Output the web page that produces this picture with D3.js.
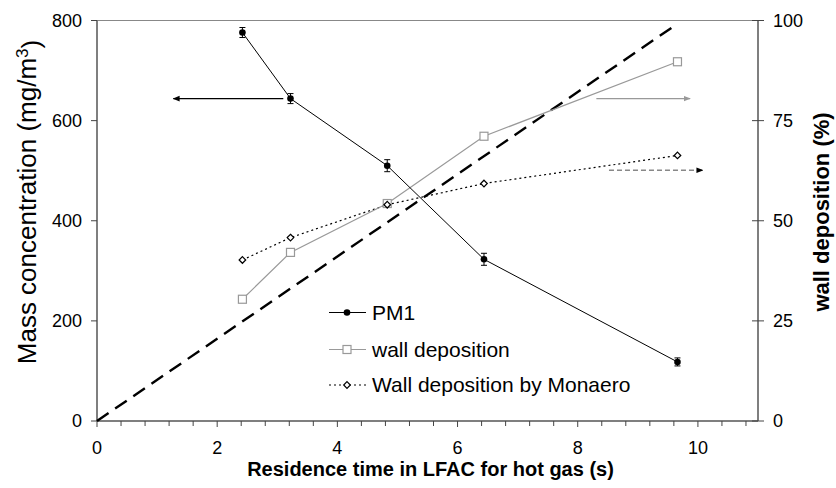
<!DOCTYPE html>
<html>
<head>
<meta charset="utf-8">
<script src="https://cdn.jsdelivr.net/npm/d3@7"></script>
<style>
  body { margin: 0; background: #fff; }
  text { font-family: Arial, "Liberation Sans", sans-serif; fill: #000; }
</style>
</head>
<body>
<div id="chart"></div>
<script>
// data
var residence = [2.42, 3.22, 4.83, 6.44, 9.66],
    pm1 = [776, 644, 510, 323, 118],
    pm1Err = [10, 10, 12, 12, 8],
    wallDep = [30.4, 42.1, 54.3, 71.1, 89.7],
    monaero = [40.2, 45.8, 54.0, 59.3, 66.3],
    refX = [0, 9.66],
    refY = [0, 99.2],
    xTicks = [0, 2, 4, 6, 8, 10],
    leftTicks = [0, 200, 400, 600, 800],
    rightTicks = [0, 25, 50, 75, 100],
    legendLabels = ["PM1", "wall deposition", "Wall deposition by Monaero"];

var W = 836, H = 488;
var margin = {top: 20.5, right: 78, bottom: 67, left: 97},
    width = W - margin.left - margin.right,
    height = H - margin.top - margin.bottom;

var x = d3.scaleLinear().domain([0, 11]).range([0, width]);
var yL = d3.scaleLinear().domain([0, 800]).range([height, 0]);
var yR = d3.scaleLinear().domain([0, 100]).range([height, 0]);

var svg = d3.select("#chart").append("svg")
    .attr("width", W).attr("height", H);

var defs = svg.append("defs");
function head(id, col) {
  defs.append("marker").attr("id", id)
      .attr("viewBox", "0 0 10 10").attr("refX", 9).attr("refY", 5)
      .attr("markerWidth", 7).attr("markerHeight", 7)
      .attr("markerUnits", "userSpaceOnUse")
      .attr("orient", "auto")
    .append("path").attr("d", "M0,1L10,5L0,9Z").style("fill", col);
}
head("hBlack", "#000");
head("hGrey", "#999");

var g = svg.append("g")
    .attr("transform", "translate(" + margin.left + "," + margin.top + ")");

// top border
g.append("line").attr("x1", 0).attr("x2", width).attr("y1", 0).attr("y2", 0)
    .style("stroke", "#888").style("stroke-width", 1);

// x axis with minor ticks every 0.4
var minor = d3.range(0, 11, 0.4);
var xa = g.append("g").attr("transform", "translate(0," + height + ")");
xa.append("line").attr("x1", 0).attr("x2", width).style("stroke", "#555").style("stroke-width", 1.5);
xa.selectAll(".mt").data(minor).enter().append("line")
    .attr("x1", d => x(d)).attr("x2", d => x(d))
    .attr("y1", 0).attr("y2", d => Math.abs(d / 2 - Math.round(d / 2)) < 1e-6 ? 6 : 5)
    .style("stroke", "#444");
xa.selectAll(".lb").data(xTicks).enter().append("text")
    .attr("x", d => x(d)).attr("y", 32.5)
    .attr("text-anchor", "middle").style("font-size", "18px")
    .text(d => d);

// left axis
var la = g.append("g");
la.append("line").attr("y1", 0).attr("y2", height).style("stroke", "#555").style("stroke-width", 1.5);
la.selectAll(".t").data(leftTicks).enter().append("line")
    .attr("x1", -6).attr("x2", 0).attr("y1", d => yL(d)).attr("y2", d => yL(d))
    .style("stroke", "#444");
la.selectAll(".lb").data(leftTicks).enter().append("text")
    .attr("x", -15).attr("y", d => yL(d)).attr("dy", "0.35em")
    .attr("text-anchor", "end").style("font-size", "18px")
    .text(d => d);

// right axis
var ra = g.append("g").attr("transform", "translate(" + width + ",0)");
ra.append("line").attr("y1", 0).attr("y2", height).style("stroke", "#555").style("stroke-width", 1.5);
ra.selectAll(".t").data(rightTicks).enter().append("line")
    .attr("x1", -6).attr("x2", 6).attr("y1", d => yR(d)).attr("y2", d => yR(d))
    .style("stroke", "#444");
ra.selectAll(".lb").data(rightTicks).enter().append("text")
    .attr("x", 15).attr("y", d => yR(d)).attr("dy", "0.35em")
    .style("font-size", "18px")
    .text(d => d);

// axis titles
svg.append("text")
    .attr("x", margin.left + width / 2 + 3).attr("y", 476)
    .attr("text-anchor", "middle").style("font-size", "20px").style("font-weight", "bold")
    .text("Residence time in LFAC for hot gas (s)");

var yt = svg.append("text")
    .attr("transform", "translate(36,202) rotate(-90)")
    .attr("text-anchor", "middle").style("font-size", "26px");
yt.append("tspan").text("Mass concentration (mg/m");
yt.append("tspan").attr("dy", "-0.45em").style("font-size", "17px").text("3");
yt.append("tspan").attr("dy", "0.45em").text(")");

svg.append("text")
    .attr("transform", "translate(829,212) rotate(-90)")
    .attr("text-anchor", "middle").style("font-size", "22px").style("font-weight", "bold")
    .text("wall deposition (%)");

// reference dashed line
g.append("line")
    .attr("x1", x(refX[0])).attr("y1", yR(refY[0]))
    .attr("x2", x(refX[1])).attr("y2", yR(refY[1]))
    .style("stroke", "#000").style("stroke-width", 2.4)
    .style("stroke-dasharray", "14,8");

// series
var pmData = residence.map((d, i) => ({x: d, y: pm1[i], e: pm1Err[i]}));
var wallData = residence.map((d, i) => ({x: d, y: wallDep[i]}));
var monData = residence.map((d, i) => ({x: d, y: monaero[i]}));

g.append("path").datum(monData)
    .attr("d", d3.line().x(d => x(d.x)).y(d => yR(d.y)))
    .style("fill", "none").style("stroke", "#000").style("stroke-width", 1.2)
    .style("stroke-dasharray", "2,3");

g.append("path").datum(wallData)
    .attr("d", d3.line().x(d => x(d.x)).y(d => yR(d.y)))
    .style("fill", "none").style("stroke", "#999").style("stroke-width", 1.2);

g.append("path").datum(pmData)
    .attr("d", d3.line().x(d => x(d.x)).y(d => yL(d.y)))
    .style("fill", "none").style("stroke", "#000").style("stroke-width", 1);

// error bars
var eb = g.selectAll(".eb").data(pmData).enter().append("g");
eb.append("line").attr("x1", d => x(d.x)).attr("x2", d => x(d.x))
    .attr("y1", d => yL(d.y - d.e)).attr("y2", d => yL(d.y + d.e)).style("stroke", "#000");
eb.append("line").attr("x1", d => x(d.x) - 3).attr("x2", d => x(d.x) + 3)
    .attr("y1", d => yL(d.y - d.e)).attr("y2", d => yL(d.y - d.e)).style("stroke", "#000");
eb.append("line").attr("x1", d => x(d.x) - 3).attr("x2", d => x(d.x) + 3)
    .attr("y1", d => yL(d.y + d.e)).attr("y2", d => yL(d.y + d.e)).style("stroke", "#000");

// markers
function square(sel) {
  sel.attr("width", 8).attr("height", 8)
     .style("fill", "#fff").style("stroke", "#999").style("stroke-width", 1.2);
}
function diamond(sel) {
  sel.attr("d", "M0,-3.3L3.3,0L0,3.3L-3.3,0Z")
     .style("fill", "#fff").style("stroke", "#000").style("stroke-width", 1.2);
}
g.selectAll(".sq").data(wallData).enter().append("rect")
    .attr("x", d => x(d.x) - 4).attr("y", d => yR(d.y) - 4).call(square);
g.selectAll(".dm").data(monData).enter().append("path")
    .attr("transform", d => "translate(" + x(d.x) + "," + yR(d.y) + ")").call(diamond);
g.selectAll(".pm").data(pmData).enter().append("circle")
    .attr("cx", d => x(d.x)).attr("cy", d => yL(d.y)).attr("r", 3.3)
    .style("fill", "#000");

// arrows pointing at the axis each series belongs to
g.append("line")
    .attr("x1", x(3.1)).attr("x2", x(1.27)).attr("y1", yL(644)).attr("y2", yL(644))
    .style("stroke", "#000").style("stroke-width", 1.2).attr("marker-end", "url(#hBlack)");
g.append("line")
    .attr("x1", x(8.31)).attr("x2", x(9.87)).attr("y1", yL(644)).attr("y2", yL(644))
    .style("stroke", "#999").style("stroke-width", 1.2).attr("marker-end", "url(#hGrey)");
g.append("line")
    .attr("x1", x(8.52)).attr("x2", x(10.08)).attr("y1", yR(62.6)).attr("y2", yR(62.6))
    .style("stroke", "#888").style("stroke-width", 1.6).style("stroke-dasharray", "5,3")
    .attr("marker-end", "url(#hBlack)");

// legend
var leg = g.append("g").attr("transform", "translate(" + (329 - margin.left) + "," + (312.5 - margin.top) + ")");
var row = leg.selectAll(".row").data(legendLabels).enter().append("g")
    .attr("transform", (d, i) => "translate(0," + [0, 37, 72.5][i] + ")");
row.append("text").attr("x", 43).attr("dy", "0.35em").style("font-size", "21px").text(d => d);
var r0 = row.filter((d, i) => i === 0), r1 = row.filter((d, i) => i === 1), r2 = row.filter((d, i) => i === 2);
r0.append("line").attr("x2", 37).style("stroke", "#000");
r0.append("circle").attr("cx", 18).attr("r", 3.3).style("fill", "#000");
r1.append("line").attr("x2", 37).style("stroke", "#999").style("stroke-width", 1.2);
r1.append("rect").attr("x", 14).attr("y", -4).call(square);
r2.append("line").attr("x2", 37).style("stroke", "#000").style("stroke-width", 1.2).style("stroke-dasharray", "2,3");
r2.append("path").attr("transform", "translate(18,0)").call(diamond);
</script>
</body>
</html>
